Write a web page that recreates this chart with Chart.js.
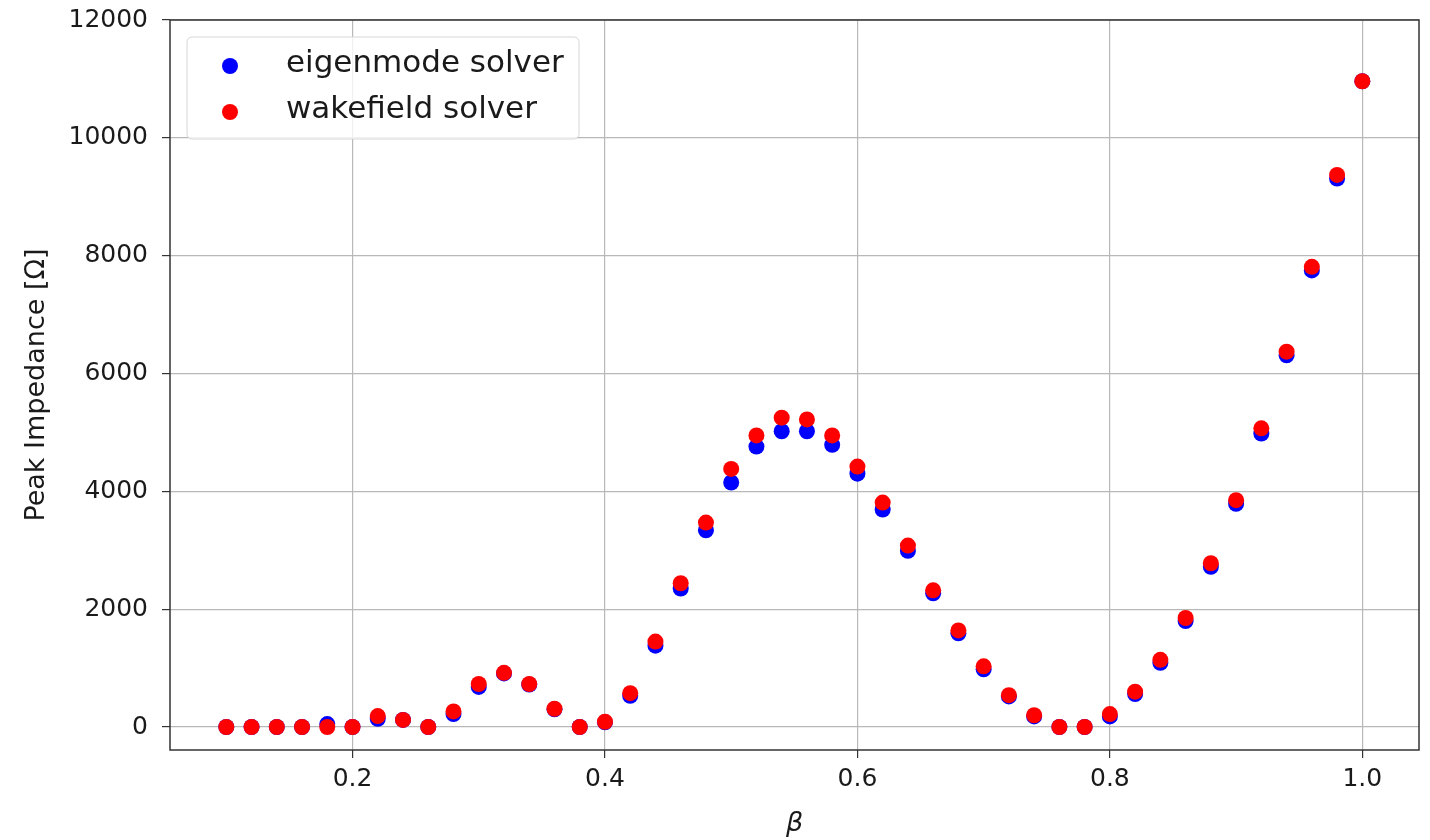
<!DOCTYPE html>
<html>
<head>
<meta charset="utf-8">
<title>Peak impedance vs beta</title>
<script src="https://cdn.jsdelivr.net/npm/chart.js@4/dist/chart.umd.min.js"></script>
<style>
  html, body { margin: 0; padding: 0; background: #fff; }
  #wrap { width: 1430px; height: 840px; }
</style>
</head>
<body>
<div id="wrap"><canvas id="chart" width="1430" height="840"></canvas></div>
<script>
// beta values (x)
const beta = [
  0.10, 0.12, 0.14, 0.16, 0.18, 0.20, 0.22, 0.24, 0.26, 0.28,
  0.30, 0.32, 0.34, 0.36, 0.38, 0.40, 0.42, 0.44, 0.46, 0.48,
  0.50, 0.52, 0.54, 0.56, 0.58, 0.60, 0.62, 0.64, 0.66, 0.68,
  0.70, 0.72, 0.74, 0.76, 0.78, 0.80, 0.82, 0.84, 0.86, 0.88,
  0.90, 0.92, 0.94, 0.96, 0.98, 1.00
];

// peak impedance [Ohm]
const eigenmode = [
  0, 0, 0, 0, 50, 0, 140, 120, 0, 220,
  680, 910, 720, 300, 0, 80, 530, 1380, 2350, 3340,
  4150, 4760, 5020, 5020, 4790, 4300, 3690, 2990, 2270, 1590,
  980, 520, 180, 0, 0, 180, 560, 1090, 1800, 2720,
  3790, 4980, 6310, 7750, 9310, 10960
];
const wakefield = [
  0, 0, 0, 0, 0, 0, 185, 120, 0, 265,
  730, 920, 730, 310, 0, 90, 575, 1450, 2440, 3470,
  4380, 4950, 5250, 5220, 4950, 4420, 3810, 3080, 2320, 1640,
  1030, 540, 200, 0, 0, 220, 600, 1140, 1850, 2780,
  3850, 5070, 6370, 7810, 9370, 10960
];

const xTicks = [0.2, 0.4, 0.6, 0.8, 1.0];
const yTicks = [0, 2000, 4000, 6000, 8000, 10000, 12000];

const FONT = 'DejaVu Sans';
const toPoints = ys => beta.map((b, i) => ({ x: b, y: ys[i] }));

// axes frame + matplotlib-style legend inside the plot
const frameAndLegend = {
  id: 'frameAndLegend',
  afterDraw(chart) {
    const ctx = chart.ctx;
    const a = chart.chartArea;
    ctx.save();
    ctx.strokeStyle = '#333';
    ctx.lineWidth = 1.5;
    ctx.strokeRect(a.left, a.top, a.right - a.left, a.bottom - a.top);

    const lx = a.left + 17, ly = a.top + 17, lw = 392, lh = 102;
    ctx.beginPath();
    ctx.roundRect(lx, ly, lw, lh, 5);
    ctx.fillStyle = 'rgba(255,255,255,0.8)';
    ctx.fill();
    ctx.strokeStyle = '#d6d6d6';
    ctx.lineWidth = 1;
    ctx.stroke();

    const items = [
      { label: 'eigenmode solver', color: '#0000ff', y: ly + 29, base: ly + 35 },
      { label: 'wakefield solver', color: '#ff0000', y: ly + 75, base: ly + 81 }
    ];
    ctx.font = '31px "' + FONT + '"';
    ctx.textBaseline = 'alphabetic';
    ctx.textAlign = 'left';
    items.forEach(it => {
      ctx.beginPath();
      ctx.arc(lx + 43, it.y, 8, 0, Math.PI * 2);
      ctx.fillStyle = it.color;
      ctx.fill();
      ctx.fillStyle = '#1a1a1a';
      ctx.fillText(it.label, lx + 99, it.base);
    });
    ctx.restore();
  }
};

new Chart(document.getElementById('chart'), {
  type: 'scatter',
  data: {
    datasets: [
      {
        label: 'eigenmode solver',
        data: toPoints(eigenmode),
        backgroundColor: '#0000ff',
        borderWidth: 0,
        pointRadius: 8,
        order: 2
      },
      {
        label: 'wakefield solver',
        data: toPoints(wakefield),
        backgroundColor: '#ff0000',
        borderWidth: 0,
        pointRadius: 8,
        order: 1
      }
    ]
  },
  options: {
    responsive: false,
    animation: false,
    layout: { padding: { left: 0, right: 11, top: 20, bottom: 0 } },
    plugins: {
      legend: { display: false },
      tooltip: { enabled: false }
    },
    scales: {
      x: {
        type: 'linear',
        min: 0.0554,
        max: 1.0449,
        afterBuildTicks: s => { s.ticks = xTicks.map(v => ({ value: v })); },
        afterFit: s => { s.height = 90; s.paddingLeft = 0; s.paddingRight = 0; },
        ticks: {
          color: '#1a1a1a',
          font: { family: FONT, size: 25 },
          padding: 6,
          maxRotation: 0,
          callback: v => v.toFixed(1)
        },
        grid: { color: '#b8b8b8', lineWidth: 1.2, tickColor: '#333', tickLength: 8 },
        border: { display: false },
        title: {
          display: true,
          text: 'β',
          color: '#1a1a1a',
          font: { family: FONT, size: 27, style: 'italic' },
          padding: { top: 0, bottom: 0 }
        }
      },
      y: {
        type: 'linear',
        min: -390,
        max: 12000,
        afterBuildTicks: s => { s.ticks = yTicks.map(v => ({ value: v })); },
        afterFit: s => { s.width = 170; s.paddingTop = 0; s.paddingBottom = 0; },
        ticks: {
          color: '#1a1a1a',
          font: { family: FONT, size: 25 },
          padding: 14,
          callback: v => String(v)
        },
        grid: { color: '#b8b8b8', lineWidth: 1.2, tickColor: '#333', tickLength: 8 },
        border: { display: false },
        title: {
          display: true,
          text: 'Peak Impedance [Ω]',
          color: '#1a1a1a',
          font: { family: FONT, size: 27 },
          padding: { top: 21, bottom: 0 }
        }
      }
    }
  },
  plugins: [frameAndLegend]
});
</script>
</body>
</html>
